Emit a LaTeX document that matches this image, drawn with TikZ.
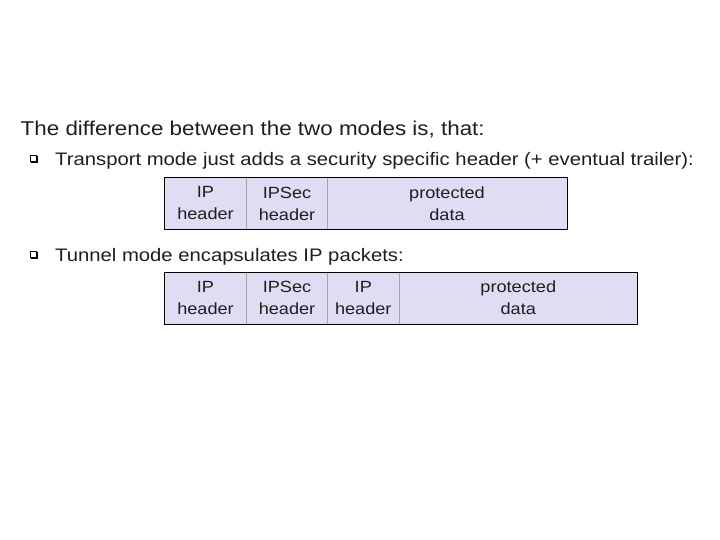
\documentclass[tikz,border=0pt]{standalone}
\usepackage{fontspec}
\setmainfont[FakeStretch=1.12]{Liberation Sans}
\usepackage{tikz}
\usetikzlibrary{fit,shadows}

\definecolor{lavender}{RGB}{223,220,244}
\definecolor{textgray}{RGB}{30,30,30}

\begin{document}
\begin{tikzpicture}[x=1pt, y=-1pt,
      field/.style={fill=lavender, draw=gray!70, minimum height=52pt,
        inner sep=0pt, outer sep=0pt, align=center, text=textgray,
        font=\fontsize{16.2}{22}\selectfont},
      frame/.style={draw=black, inner sep=0pt},
      line/.style={anchor=base west, inner sep=0pt, text=textgray},
      bulletbox/.style={draw=black, fill=white, minimum size=6.2pt,
        inner sep=0pt, line width=0.9pt,
        copy shadow={shadow xshift=0.9pt, shadow yshift=-0.9pt}}]

      \useasboundingbox (0,0) rectangle (720,540);

      \node[line, font=\fontsize{20}{22}\selectfont] (title) at (20.5,136)
        {The difference between the two modes is, that:};

      % transport mode
      \node[bulletbox] (bul1) at (33.8,158.8) {};
      \node[line, font=\fontsize{18.1}{22}\selectfont] (trans) at (55,165.3)
        {Transport mode just adds a security specific header (+ eventual trailer):};

      \foreach \x/\w/\al/\lab in {%
        205.5/82/ipa/{IP\\header},%
        287/81/seca/{IPSec\\header},%
        447/239.4/dataa/{protected\\data}%
      }{ \node[field, minimum width=\w pt] (\al) at (\x,203.5) {\lab}; }

      \node[fit=(ipa)(dataa), frame] (transport) {};

      % tunnel mode
      \node[bulletbox] (bul2) at (33.8,254.3) {};
      \node[line, font=\fontsize{18.1}{22}\selectfont] (tunn) at (55,261.7)
        {Tunnel mode encapsulates IP packets:};

      \foreach \x/\w/\al/\lab in {%
        205.5/82/ipb/{IP\\header},%
        287/81/secb/{IPSec\\header},%
        363.3/72/innerb/{IP\\header},%
        518.3/238/datab/{protected\\data}%
      }{ \node[field, minimum width=\w pt] (\al) at (\x,298.2) {\lab}; }

      \node[fit=(ipb)(datab), frame] (tunnel) {};
    \end{tikzpicture}
\end{document}
